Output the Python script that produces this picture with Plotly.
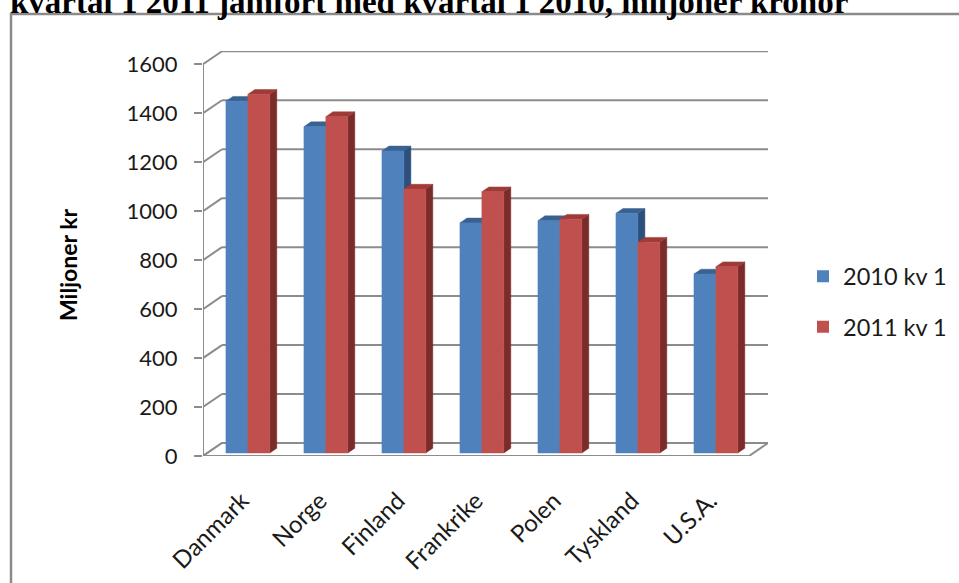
import plotly.graph_objects as go

# ---- data ----
categories = ["Danmark", "Norge", "Finland", "Frankrike", "Polen", "Tyskland", "U.S.A."]
series_names = ["2010 kv 1", "2011 kv 1"]
values_2010 = [1437, 1333, 1234, 940, 949, 979, 731]
values_2011 = [1465, 1374, 1078, 1067, 955, 861, 761]
y_ticks = [0, 200, 400, 600, 800, 1000, 1200, 1400, 1600]
title_text = "kvartal 1 2011 jämfört med kvartal 1 2010, miljoner kronor"
y_title = "Miljoner kr"

# ---- layout geometry (pixels) ----
W, H = 959, 583
L, R, T, B = 203, 768, 51, 456          # plot area in px
SLOT_PX = (750 - 203) / len(categories)  # front floor width per category
DEPTH_PX = (19, 13)                       # 3D depth vector (right, up)
PX_PER_UNIT = (456 - 64.3) / 1600

DX = DEPTH_PX[0] / SLOT_PX               # depth in x data units
DY = DEPTH_PX[1] / PX_PER_UNIT           # depth in y data units
x_min = -0.5
x_max = len(categories) - 0.5 + DX
y_max = (B - T) / PX_PER_UNIT

F0, F1 = 0.23, 0.60                      # bar front/back depth fraction
BAR_W = 0.281
GROUP_OFF = -0.262

GRID = "#8C8C8C"
FONT = "Lato"
TXT = "#1A1A1A"

def paper_x(p):
    return (p - L) / (R - L)

def paper_y(p):
    return (B - p) / (B - T)

colors = {
    "2010 kv 1": ("#4F81BD", "#3A6291", "#2D4F7C"),
    "2011 kv 1": ("#C0504D", "#9E3B38", "#7B2C2A"),
}

fig = go.Figure()

shapes = []
# back wall gridlines + left wall diagonals
for v in y_ticks:
    shapes.append(dict(type="line", xref="x", yref="y", x0=x_min + DX, x1=x_max,
                       y0=v + DY, y1=v + DY, line=dict(color=GRID, width=2), layer="below"))
    shapes.append(dict(type="line", xref="x", yref="y", x0=x_min, x1=x_min + DX,
                       y0=v, y1=v + DY, line=dict(color=GRID, width=2), layer="below"))
# vertical axis line (front)
shapes.append(dict(type="line", xref="x", yref="y", x0=x_min, x1=x_min,
                   y0=0, y1=y_ticks[-1], line=dict(color=GRID, width=2), layer="below"))
# floor
n = len(categories)
shapes.append(dict(type="path", xref="x", yref="y",
                   path=f"M{x_min},0 L{n - 0.5},0 L{n - 0.5 + DX},{DY} L{x_min + DX},{DY} Z",
                   line=dict(color=GRID, width=2), fillcolor="white", layer="below"))
# outer border (clipped by page)
shapes.append(dict(type="rect", xref="paper", yref="paper",
                   x0=paper_x(11), x1=paper_x(1010), y0=paper_y(14), y1=paper_y(640),
                   line=dict(color="#8A8A8A", width=2.5), layer="below"))

all_vals = {"2010 kv 1": values_2010, "2011 kv 1": values_2011}
dxb = (F1 - F0) * DX
dyb = (F1 - F0) * DY
for si, name in enumerate(series_names):
    vals = all_vals[name]
    front_c, top_c, side_c = colors[name]
    fx, fy, tx, ty, sx, sy = [], [], [], [], [], []
    for i, v in enumerate(vals):
        x0 = i + GROUP_OFF + si * BAR_W + F0 * DX
        x1 = x0 + BAR_W
        base = F0 * DY
        top = base + v
        fx += [x0, x1, x1, x0, x0, None]
        fy += [base, base, top, top, base, None]
        tx += [x0, x1, x1 + dxb, x0 + dxb, x0, None]
        ty += [top, top, top + dyb, top + dyb, top, None]
        sx += [x1, x1 + dxb, x1 + dxb, x1, x1, None]
        sy += [base, base + dyb, top + dyb, top, base, None]
    for xs, ys, c in [(sx, sy, side_c), (tx, ty, top_c), (fx, fy, front_c)]:
        fig.add_trace(go.Scatter(x=xs, y=ys, mode="lines", fill="toself", fillcolor=c,
                                 line=dict(color=c, width=0.5), showlegend=False,
                                 hoverinfo="skip"))

# legend entries
for name in series_names:
    fig.add_trace(go.Scatter(x=[None], y=[None], mode="markers", name=name,
                             legendgroup=name,
                             marker=dict(symbol="square", size=14, color=colors[name][0])))

fig.update_layout(
    width=W, height=H,
    margin=dict(l=L, r=W - R, t=T, b=H - B, pad=0, autoexpand=False),
    paper_bgcolor="white", plot_bgcolor="rgba(0,0,0,0)",
    shapes=shapes,
    showlegend=True,
    legend=dict(x=paper_x(803), y=paper_y(302), xanchor="left", yanchor="middle",
                font=dict(family=FONT, size=23.5, color=TXT),
                traceorder="grouped", tracegroupgap=17, itemsizing="constant",
                bgcolor="rgba(0,0,0,0)"),
    xaxis=dict(range=[x_min, x_max], tickvals=list(range(n)), ticktext=categories,
               tickangle=-45, showgrid=False, zeroline=False, showline=False,
               ticks="", ticklabelstandoff=25, automargin=False,
               tickfont=dict(family=FONT, size=24, color=TXT), fixedrange=True),
    yaxis=dict(range=[0, y_max], tickvals=y_ticks, ticks="outside", ticklen=8,
               tickwidth=2, tickcolor=GRID, showgrid=False, zeroline=False,
               showline=False, ticklabelstandoff=12, automargin=False,
               tickfont=dict(family=FONT, size=22, color=TXT), fixedrange=True),
    annotations=[
        dict(text=f"<b>{title_text}</b>", xref="paper", yref="paper",
             x=paper_x(8), y=paper_y(22), xanchor="left", yanchor="bottom",
             showarrow=False, font=dict(family="Liberation Serif", size=33, color="black")),
        dict(text=f"<b>{y_title}</b>", xref="paper", yref="paper",
             x=paper_x(68), y=paper_y(265), xanchor="center", yanchor="middle",
             textangle=-90, showarrow=False,
             font=dict(family=FONT, size=23, color="black")),
    ],
)

fig.write_html("out.html",
               config={"displayModeBar": False},
               post_script="document.body.style.margin='0';document.body.style.padding='0';"
                           "document.documentElement.style.overflow='hidden';")
